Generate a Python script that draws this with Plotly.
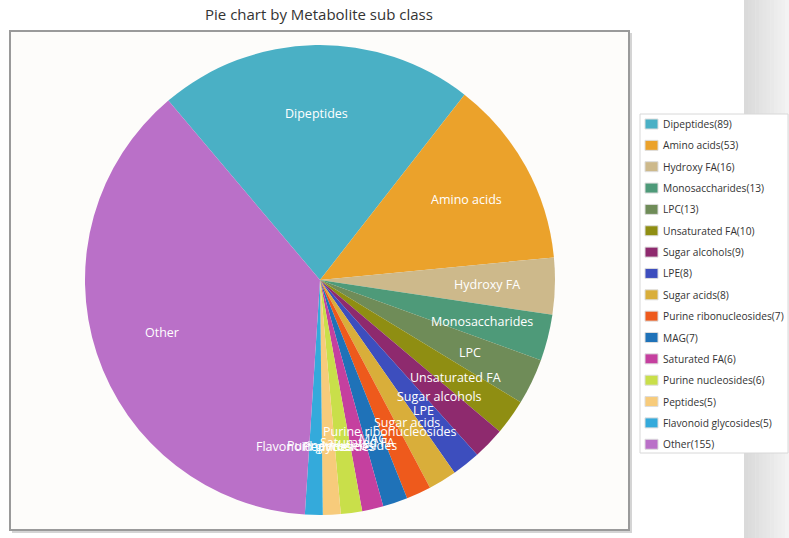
import math
import plotly.graph_objects as go

# Metabolite sub classes and their counts
classes = ["Dipeptides", "Amino acids", "Hydroxy FA", "Monosaccharides", "LPC",
           "Unsaturated FA", "Sugar alcohols", "LPE", "Sugar acids",
           "Purine ribonucleosides", "MAG", "Saturated FA", "Purine nucleosides",
           "Peptides", "Flavonoid glycosides", "Other"]
counts = [89, 53, 16, 13, 13, 10, 9, 8, 8, 7, 7, 6, 6, 5, 5, 155]
colors = ["#4AB0C5", "#EBA22B", "#CDB98B", "#4E9A79", "#6F8C58", "#8F8E12",
          "#8E2A6E", "#3D4EBE", "#D9AE3A", "#EE5A1C", "#1F72B8", "#C5409F",
          "#C9DF4A", "#F7CB7B", "#34AADB", "#BA70C8"]

W, H = 789, 538
FONT = "Open Sans"

# pie geometry (pixels)
cx, cy, R = 320, 280, 235
start_deg = -40.2

fig = go.Figure()
fig.add_trace(go.Pie(
    labels=classes, values=counts, sort=False, direction="clockwise",
    rotation=start_deg, textinfo="none", hoverinfo="label+value+percent",
    marker=dict(colors=colors, line=dict(width=0)),
    domain=dict(x=[(cx - R) / W, (cx + R) / W], y=[1 - (cy + R) / H, 1 - (cy - R) / H]),
    showlegend=False,
))

shapes = []
annotations = []

# page strip on the right
strip_x0 = 744
n = 12
for i in range(n):
    g = int(218 + (243 - 218) * i / (n - 1))
    shapes.append(dict(type="rect", xref="paper", yref="paper", layer="below",
                       x0=(strip_x0 + i * (W - strip_x0) / n) / W,
                       x1=(strip_x0 + (i + 1) * (W - strip_x0) / n + 0.5) / W,
                       y0=0, y1=1, line=dict(width=0),
                       fillcolor=f"rgb({g},{g},{g})"))

# chart frame with soft shadow
def px_rect(x0, y0, x1, y1, **kw):
    return dict(type="rect", xref="paper", yref="paper",
                x0=x0 / W, x1=x1 / W, y0=1 - y1 / H, y1=1 - y0 / H, **kw)

shapes.append(px_rect(12, 33, 632, 533, layer="below", line=dict(width=0), fillcolor="#d4d4d4"))
shapes.append(px_rect(10, 31, 629, 530, layer="below", line=dict(color="#9a9a9a", width=2),
                      fillcolor="#fdfcfa"))

# slice labels, placed at 71% of the radius along each slice's mid angle
total = sum(counts)
cum = 0
for name, v in zip(classes, counts):
    mid = start_deg + (cum + v / 2) / total * 360
    cum += v
    a = math.radians(mid)
    r = 0.71 * R
    x = cx + r * math.sin(a)
    y = cy - r * math.cos(a)
    annotations.append(dict(x=x / W, y=1 - y / H, xref="paper", yref="paper",
                            text=name, showarrow=False, xanchor="center", yanchor="middle",
                            font=dict(family=FONT, size=12.5, color="white")))

# legend box
lx0, ly0, lx1, ly1 = 640, 114, 788, 453
shapes.append(px_rect(lx0, ly0, lx1, ly1, line=dict(color="#d8d8d8", width=1), fillcolor="white"))
row0, step = 124, 21.35
for i, (name, v, c) in enumerate(zip(classes, counts, colors)):
    yy = row0 + i * step
    shapes.append(px_rect(645, yy - 5, 658, yy + 5, line=dict(color="#dddddd", width=1), fillcolor=c))
    annotations.append(dict(x=661 / W, y=1 - yy / H, xref="paper", yref="paper",
                            text=f"{name}({v})", showarrow=False, xanchor="left", yanchor="middle",
                            font=dict(family=FONT, size=10.2, color="#333333")))

# title
annotations.append(dict(x=319 / W, y=1 - 14 / H, xref="paper", yref="paper",
                        text="Pie chart by Metabolite sub class", showarrow=False,
                        xanchor="center", yanchor="middle",
                        font=dict(family=FONT, size=15, color="#333333")))

fig.update_layout(width=W, height=H, margin=dict(l=0, r=0, t=0, b=0),
                  paper_bgcolor="white", plot_bgcolor="white",
                  shapes=shapes, annotations=annotations)
fig.write_html("out.html")
